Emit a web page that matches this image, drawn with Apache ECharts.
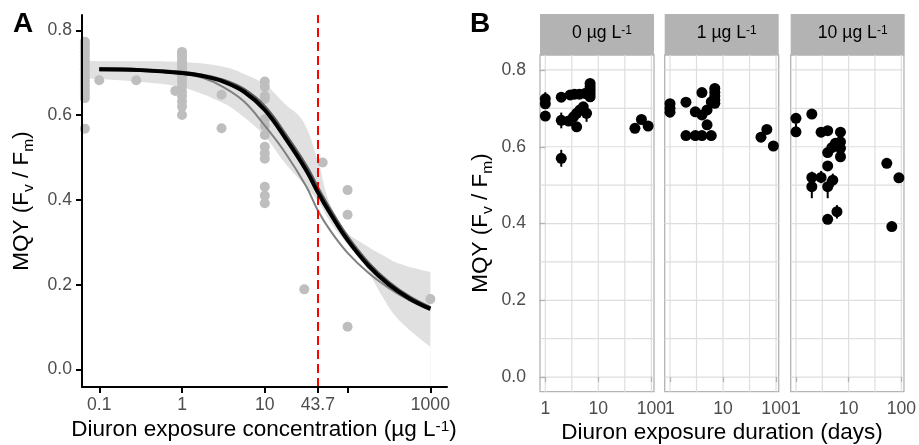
<!DOCTYPE html>
<html><head><meta charset="utf-8">
<script src="https://cdn.jsdelivr.net/npm/echarts@6/dist/echarts.min.js"></script>
<style>html,body{margin:0;padding:0;background:#fff}#c{width:919px;height:445px}</style>
</head><body><div id="c"></div>
<script>
// ---------- Panel A data (concentration in µg/L, MQY) ----------
const aTickConc = [0.1, 1, 10, 43.7, 100, 1000];
const aLabelConc = [0.1, 1, 10, 43.7, 1000];
const aLabelText = ['0.1', '1', '10', '43.7', '1000'];
const yTicks = [0, 0.2, 0.4, 0.6, 0.8];
const ec50 = 43.7;
const aConcLevels = [0.067, 0.1, 0.28, 0.83, 1, 3, 10, 30, 50, 100, 1000];
const aMqyByLevel = [
  [0.773,0.765,0.757,0.748,0.740,0.730,0.720,0.710,0.700,0.690,0.680,0.670,0.660,0.650,0.640,0.568],
  [0.682],
  [0.682],
  [0.657],
  [0.749,0.742,0.735,0.727,0.720,0.712,0.705,0.697,0.690,0.680,0.668,0.655,0.645,0.632,0.620,0.600],
  [0.648,0.569],
  [0.679,0.667,0.645,0.638,0.590,0.575,0.553,0.525,0.510,0.497,0.431,0.410,0.392],
  [0.189],
  [0.488],
  [0.423,0.365,0.101],
  [0.166]
];
const curveConc = [0.1, 0.316, 1, 1.78, 3.16, 5.62, 10, 17.8, 31.6, 43.7, 63.1, 100, 178, 316, 562, 1000];
const blackFit  = [0.708,0.706,0.699,0.692,0.679,0.655,0.612,0.545,0.470,0.418,0.365,0.305,0.245,0.200,0.167,0.143];
const darkFit   = [0.708,0.706,0.700,0.693,0.681,0.659,0.618,0.552,0.478,0.426,0.372,0.311,0.250,0.204,0.170,0.145];
const greyFit   = [0.708,0.705,0.697,0.688,0.666,0.632,0.575,0.510,0.432,0.375,0.325,0.275,0.228,0.192,0.163,0.140];
const bandConc  = [0.067, 0.1, 0.316, 1, 3.16, 5.62, 10, 17.8, 28.7, 43.7, 60, 95, 151, 263, 416, 1000];
const bandUpper = [0.728,0.727,0.727,0.725,0.714,0.697,0.672,0.625,0.587,0.492,0.395,0.326,0.298,0.270,0.250,0.230];
const bandLower = [0.686,0.685,0.678,0.665,0.628,0.595,0.550,0.485,0.440,0.398,0.352,0.300,0.255,0.172,0.117,0.054];

// ---------- Panel B data (days, MQY) ----------
const bFacetNames = ['0', '1', '10'];
const bTickDays = [1, 10, 100];
const bLabelText = ['1', '10', '100'];
const b0Days = [1,1,1, 2,2,2, 2.95,3.55,4.4,5.6, 7,7,7,7,7, 2.75,3.4,3.9,3.9,4.5,5.2,6, 49,65,87];
const b0Mqy  = [0.725,0.712,0.680, 0.729,0.669,0.570, 0.735,0.737,0.737,0.739, 0.765,0.756,0.748,0.739,0.730, 0.667,0.678,0.687,0.652,0.696,0.704,0.687, 0.648,0.671,0.654];
const b0ErrDays = [1, 2, 2, 6];
const b0ErrLow  = [0.712, 0.648, 0.548, 0.665];
const b0ErrHigh = [0.742, 0.689, 0.592, 0.700];
const b1Days = [1,1,1, 2, 4, 7,7,7,7,7, 6, 3,4,5,5, 2,3,4,6, 52,67,89];
const b1Mqy  = [0.712,0.700,0.690, 0.716, 0.741, 0.752,0.742,0.732,0.722,0.713, 0.717, 0.691,0.683,0.696,0.657, 0.629,0.629,0.629,0.629, 0.625,0.645,0.602];
const b1ErrDays = [];
const b1ErrLow  = [];
const b1ErrHigh = [];
const b2Days = [1,1, 2, 3,4,7, 4,4.8,5.6,7,7,7, 4, 2,3,5, 2,4, 6, 4, 53,90,66];
const b2Mqy  = [0.674,0.639, 0.685, 0.638,0.642,0.638, 0.585,0.598,0.609,0.613,0.596,0.574, 0.550, 0.520,0.520,0.513, 0.496,0.496, 0.431, 0.411, 0.557,0.519,0.392];
const b2ErrDays = [1, 2, 3, 5, 2, 4, 6];
const b2ErrLow  = [0.627, 0.505, 0.505, 0.495, 0.466, 0.466, 0.413];
const b2ErrHigh = [0.661, 0.535, 0.537, 0.530, 0.515, 0.515, 0.448];
const bMajorY = [0, 0.2, 0.4, 0.6, 0.8];
const bMinorY = [0.1, 0.3, 0.5, 0.7];
const bMajorX = [1, 10, 100];
const bMinorX = [3.162, 31.62];

// ---------- build ----------
const FONT = "'Liberation Sans', Arial, Helvetica, sans-serif";
const lg = v => Math.log10(v);
const chart = echarts.init(document.getElementById('c'), null, {renderer: 'canvas'});

const aPoints = [];
aConcLevels.forEach((c, i) => aMqyByLevel[i].forEach(v => aPoints.push([lg(c), v])));
const pair = (xs, ys) => xs.map((x, i) => [lg(x), ys[i]]);

const facetLeft = [540, 664.7, 790.7];
const facetW = 114;
const bTop = 55, bH = 336.7;
const bDays = [b0Days, b1Days, b2Days];
const bMqy = [b0Mqy, b1Mqy, b2Mqy];
const bErr = [[b0ErrDays, b0ErrLow, b0ErrHigh], [b1ErrDays, b1ErrLow, b1ErrHigh], [b2ErrDays, b2ErrLow, b2ErrHigh]];

const labelColor = '#4D4D4D';
const tickFont = 17.6;

const grids = [{left: 82, top: 15, width: 365, height: 372, show: false}];
facetLeft.forEach(l => grids.push({left: l, top: bTop, width: facetW, height: bH, show: true,
  borderColor: '#B3B3B3', borderWidth: 1.3, backgroundColor: 'transparent'}));

const aTickLog = aTickConc.map(lg);
const aLabelLog = aLabelConc.map(lg);
const xAxes = [{
  gridIndex: 0, type: 'value', min: -1.2084, max: 3.201, z: 10,
  axisLine: {show: true, onZero: false, lineStyle: {color: '#000', width: 2}},
  axisTick: {show: true, customValues: aTickLog, length: 6, lineStyle: {color: '#000', width: 2}},
  axisLabel: {customValues: aLabelLog, margin: 9, color: labelColor, fontSize: tickFont, fontFamily: FONT,
    formatter: v => { const i = aLabelLog.findIndex(l => Math.abs(l - v) < 1e-6); return i >= 0 ? aLabelText[i] : ''; }},
  splitLine: {show: false}
}];
const yAxes = [{
  gridIndex: 0, type: 'value', min: -0.0413, max: 0.836, z: 10,
  axisLine: {show: true, onZero: false, lineStyle: {color: '#000', width: 2}},
  axisTick: {show: true, customValues: yTicks, length: 6, lineStyle: {color: '#000', width: 2}},
  axisLabel: {customValues: yTicks, margin: 10, color: labelColor, fontSize: tickFont, fontFamily: FONT,
    formatter: v => v.toFixed(1)},
  splitLine: {show: false}
}];
const bTickLog = bTickDays.map(lg);
for (let k = 0; k < 3; k++) {
  xAxes.push({
    gridIndex: k + 1, type: 'value', min: -0.1, max: 2.05,
    axisLine: {show: false},
    axisTick: {show: true, customValues: bTickLog, length: 5, lineStyle: {color: '#B3B3B3', width: 1.3}},
    axisLabel: {customValues: bTickLog, margin: 8, color: labelColor, fontSize: tickFont, fontFamily: FONT,
      formatter: v => { const i = bTickLog.findIndex(l => Math.abs(l - v) < 1e-6); return i >= 0 ? bLabelText[i] : ''; }},
    splitLine: {show: false}
  });
  yAxes.push({
    gridIndex: k + 1, type: 'value', min: -0.038, max: 0.839,
    axisLine: {show: false},
    axisTick: {show: k === 0, customValues: yTicks, length: 6, lineStyle: {color: '#B3B3B3', width: 1.3}},
    axisLabel: {show: k === 0, customValues: yTicks, margin: 14, color: labelColor, fontSize: tickFont, fontFamily: FONT,
      formatter: v => v.toFixed(1)},
    splitLine: {show: false}
  });
}

const series = [];
// confidence band: upper edge filled grey down to the axis, lower edge filled white down to the axis
series.push({type: 'line', xAxisIndex: 0, yAxisIndex: 0, smooth: 0.4, symbol: 'none', silent: true, z: 1,
  lineStyle: {opacity: 0}, areaStyle: {color: '#E0E0E0', opacity: 1, origin: 'start'},
  data: pair(bandConc, bandUpper)});
series.push({type: 'line', xAxisIndex: 0, yAxisIndex: 0, smooth: 0.4, symbol: 'none', silent: true, z: 1,
  lineStyle: {opacity: 0}, areaStyle: {color: '#FFFFFF', opacity: 1, origin: 'start'},
  data: pair(bandConc, bandLower)});
series.push({type: 'scatter', xAxisIndex: 0, yAxisIndex: 0, symbolSize: 10, z: 2, silent: true,
  itemStyle: {color: '#BEBEBE', opacity: 1}, data: aPoints});
series.push({type: 'line', xAxisIndex: 0, yAxisIndex: 0, smooth: 0.4, symbol: 'none', silent: true, z: 3,
  lineStyle: {color: '#808080', width: 2}, data: pair(curveConc, greyFit)});
series.push({type: 'line', xAxisIndex: 0, yAxisIndex: 0, smooth: 0.4, symbol: 'none', silent: true, z: 4,
  lineStyle: {color: '#5E5E5E', width: 4}, data: pair(curveConc, darkFit)});
series.push({type: 'line', xAxisIndex: 0, yAxisIndex: 0, smooth: 0.4, symbol: 'none', silent: true, z: 5,
  lineStyle: {color: '#000', width: 4}, data: pair(curveConc, blackFit),
  markLine: {silent: true, symbol: ['none', 'none'], label: {show: false}, animation: false,
    lineStyle: {color: '#FF0000', width: 2, type: [9, 5]}, data: [{xAxis: lg(ec50)}]}});

for (let k = 0; k < 3; k++) {
  const xi = k + 1;
  const vLines = bMajorX.concat(bMinorX).map(d => [lg(d), 0]);
  series.push({type: 'custom', xAxisIndex: xi, yAxisIndex: xi, z: 0, silent: true, data: vLines,
    renderItem: (params, api) => {
      const cs = params.coordSys; const x = api.coord([api.value(0), 0])[0];
      return {type: 'line', shape: {x1: x, y1: cs.y, x2: x, y2: cs.y + cs.height}, style: {stroke: '#DEDEDE', lineWidth: 1.2}};
    }});
  const hLines = bMajorY.concat(bMinorY).map(v => [0, v]);
  series.push({type: 'custom', xAxisIndex: xi, yAxisIndex: xi, z: 0, silent: true, data: hLines,
    renderItem: (params, api) => {
      const cs = params.coordSys; const y = api.coord([0, api.value(1)])[1];
      return {type: 'line', shape: {x1: cs.x, y1: y, x2: cs.x + cs.width, y2: y}, style: {stroke: '#DEDEDE', lineWidth: 1.2}};
    }});
  const [ed, el, eh] = bErr[k];
  if (ed.length) {
    series.push({type: 'custom', xAxisIndex: xi, yAxisIndex: xi, z: 3, silent: true,
      data: ed.map((d, i) => [lg(d), el[i], eh[i]]),
      renderItem: (params, api) => {
        const p1 = api.coord([api.value(0), api.value(1)]);
        const p2 = api.coord([api.value(0), api.value(2)]);
        return {type: 'line', shape: {x1: p1[0], y1: p1[1], x2: p2[0], y2: p2[1]}, style: {stroke: '#000', lineWidth: 2}};
      }});
  }
  series.push({type: 'scatter', xAxisIndex: xi, yAxisIndex: xi, symbolSize: 11, z: 4, silent: true,
    itemStyle: {color: '#000', opacity: 1}, data: pair(bDays[k], bMqy[k])});
}

const titleRich = {
  t: {fontSize: 22.5, fontFamily: FONT, color: '#000'},
  b: {fontSize: 15.5, fontFamily: FONT, color: '#000', verticalAlign: 'bottom', padding: [14, 0, 0, 0]},
  p: {fontSize: 15.5, fontFamily: FONT, color: '#000', verticalAlign: 'top'}
};
const stripRich = {
  s: {fontSize: 17.6, fontFamily: FONT, color: '#fff'},
  q: {fontSize: 12, fontFamily: FONT, color: '#fff', verticalAlign: 'top'}
};
const yTitle = '{t|MQY (F}{b|v}{t| / F}{b|m}{t|)}';
const graphics = [
  {type: 'text', x: 23, y: 24, style: {text: 'A', font: "bold 28px " + FONT, fill: '#000', align: 'center', verticalAlign: 'middle'}},
  {type: 'text', x: 480, y: 24, style: {text: 'B', font: "bold 28px " + FONT, fill: '#000', align: 'center', verticalAlign: 'middle'}},
  {type: 'text', x: 22, y: 201, rotation: Math.PI / 2, style: {text: yTitle, rich: titleRich, align: 'center', verticalAlign: 'middle'}},
  {type: 'text', x: 480.5, y: 223, rotation: Math.PI / 2, style: {text: yTitle, rich: titleRich, align: 'center', verticalAlign: 'middle'}},
  {type: 'text', x: 264, y: 430, style: {text: '{t|Diuron exposure concentration (µg L}{p|-1}{t|)}', rich: titleRich, align: 'center', verticalAlign: 'middle'}},
  {type: 'text', x: 722, y: 433, style: {text: '{t|Diuron exposure duration (days)}', rich: titleRich, align: 'center', verticalAlign: 'middle'}}
];
facetLeft.forEach((l, k) => {
  graphics.push({type: 'rect', shape: {x: l, y: 14, width: facetW, height: 41}, style: {fill: '#B3B3B3'}});
  graphics.push({type: 'text', x: l + facetW / 2 + 5, y: 33.5,
    style: {text: '{s|' + bFacetNames[k] + ' µg L}{q|-1}', rich: stripRich, align: 'center', verticalAlign: 'middle'}});
});

chart.setOption({
  animation: false,
  backgroundColor: '#fff',
  grid: grids, xAxis: xAxes, yAxis: yAxes, series: series, graphic: graphics
});
</script></body></html>
